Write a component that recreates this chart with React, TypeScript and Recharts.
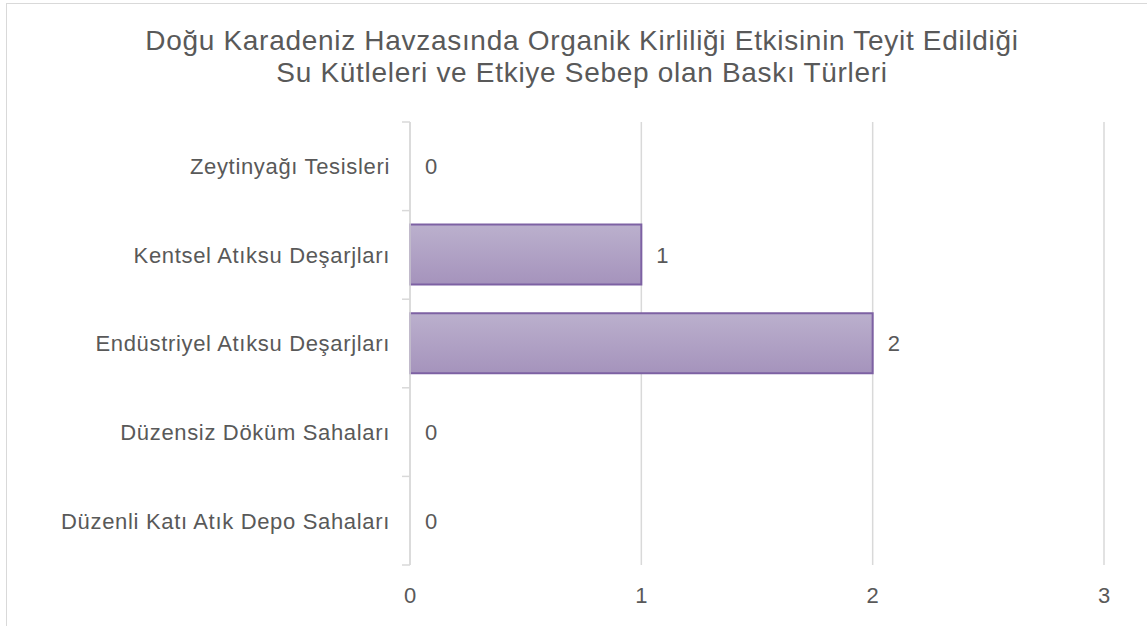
import React from "react";
import { ComposedChart, Bar, Line, XAxis, YAxis, CartesianGrid, LabelList } from "recharts";

const categories = [
  "Zeytinyağı Tesisleri",
  "Kentsel Atıksu Deşarjları",
  "Endüstriyel Atıksu Deşarjları",
  "Düzensiz Döküm Sahaları",
  "Düzenli Katı Atık Depo Sahaları",
];
const counts = [0, 1, 2, 0, 0];
const xTicks = [0, 1, 2, 3];
const titleLines = [
  "Doğu Karadeniz Havzasında Organik Kirliliği Etkisinin Teyit Edildiği",
  "Su Kütleleri ve Etkiye Sebep olan Baskı Türleri",
];

const data = categories.map((name, i) => ({ name, count: counts[i] }));

const FONT = '"Liberation Sans", Arial, sans-serif';
const TEXT = "#595959";
const GRID = "#d9d9d9";

function CategoryTick(props: any) {
  const { x, y, payload } = props;
  const half = payload && payload.offset ? payload.offset : 44.3;
  const axisX = x + 20;
  return (
    <g>
      <line x1={axisX - 8} x2={axisX} y1={y - half} y2={y - half} stroke={GRID} strokeWidth={1.5} />
      {payload.index === categories.length - 1 && (
        <line x1={axisX - 8} x2={axisX} y1={y + half} y2={y + half} stroke={GRID} strokeWidth={1.5} />
      )}
      <text
        x={x}
        y={y}
        dy="0.355em"
        textAnchor="end"
        fill={TEXT}
        fontSize={22}
        fontFamily={FONT}
        letterSpacing={0.67}
      >
        {payload.value}
      </text>
    </g>
  );
}

export default function App() {
  return (
    <div style={{ position: "absolute", left: 0, top: 0, width: 1147, height: 626, overflow: "hidden", background: "#fff" }}>
      <div
        style={{
          position: "absolute",
          left: 6,
          top: 3,
          width: 1200,
          height: 700,
          border: `1.5px solid ${GRID}`,
          boxSizing: "border-box",
        }}
      />
      <div
        style={{
          position: "absolute",
          left: 0,
          top: 25,
          width: 1164,
          textAlign: "center",
          fontFamily: FONT,
          fontSize: 28,
          lineHeight: "32px",
          letterSpacing: 0.7,
          color: TEXT,
        }}
      >
        {titleLines.map((t) => (
          <div key={t}>{t}</div>
        ))}
      </div>
      <div style={{ position: "absolute", left: 0, top: 0 }}>
        <ComposedChart
          width={1147}
          height={626}
          data={data}
          layout="vertical"
          margin={{ top: 122, right: 43, bottom: 0, left: 0 }}
        >
          <defs>
            <linearGradient id="barFill" x1="0" y1="0" x2="0" y2="1">
              <stop offset="0%" stopColor="#bbb0cd" />
              <stop offset="100%" stopColor="#a593bc" />
            </linearGradient>
          </defs>
          <CartesianGrid horizontal={false} vertical stroke={GRID} strokeWidth={1.5} />
          <XAxis
            type="number"
            domain={[0, 3]}
            ticks={xTicks}
            axisLine={false}
            tickLine={false}
            tickSize={0}
            tickMargin={22}
            height={61}
            tick={{ fill: TEXT, fontSize: 22, fontFamily: FONT }}
          />
          <YAxis
            type="category"
            dataKey="name"
            width={410}
            tickSize={0}
            tickMargin={20}
            tickLine={false}
            axisLine={{ stroke: GRID, strokeWidth: 1.5 }}
            tick={<CategoryTick />}
            interval={0}
          />
          <Bar
            dataKey="count"
            barSize={60}
            fill="url(#barFill)"
            stroke="#7d61a3"
            strokeWidth={2}
            isAnimationActive={false}
          />
          <Line
            dataKey="count"
            stroke="none"
            dot={false}
            activeDot={false}
            legendType="none"
            isAnimationActive={false}
          >
            <LabelList dataKey="count" position="right" offset={15} fill={TEXT} fontSize={22} fontFamily={FONT} />
          </Line>
        </ComposedChart>
      </div>
    </div>
  );
}
